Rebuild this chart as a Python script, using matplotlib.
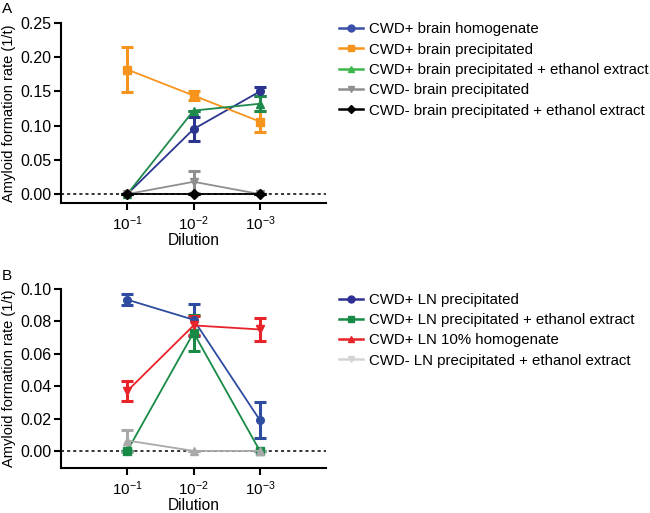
import matplotlib
matplotlib.use("Agg")
import matplotlib.pyplot as plt
from matplotlib.lines import Line2D

plt.rcParams["font.family"] = ["Liberation Sans", "DejaVu Sans"]
plt.rcParams["mathtext.default"] = "regular"

# ── data ─────────────────────────────────────────────────────────────
dilutions = ["10$^{-1}$", "10$^{-2}$", "10$^{-3}$"]
xpos = [1, 2, 3]

# panel A : brain
a_labels = [
    "CWD+ brain homogenate",
    "CWD+ brain precipitated",
    "CWD+ brain precipitated + ethanol extract",
    "CWD- brain precipitated",
    "CWD- brain precipitated + ethanol extract",
]
a_mean = [
    [0.000, 0.095, 0.150],
    [0.182, 0.144, 0.106],
    [0.000, 0.122, 0.132],
    [0.000, 0.018, 0.000],
    [0.000, 0.000, 0.000],
]
a_err = [
    [0.000, 0.017, 0.007],
    [0.033, 0.007, 0.016],
    [0.000, 0.000, 0.011],
    [0.000, 0.016, 0.000],
    [0.000, 0.000, 0.000],
]
a_colors = ["#2b3590", "#f7941d", "#1e8a4c", "#8f8f8f", "#000000"]
a_leg_colors = ["#3a4fa8", "#f7941d", "#3cb54a", "#8f8f8f", "#000000"]
a_markers = ["o", "s", "^", "v", "D"]

# panel B : lymph node
b_labels = [
    "CWD+ LN precipitated",
    "CWD+ LN precipitated + ethanol extract",
    "CWD+ LN 10% homogenate",
    "CWD- LN precipitated + ethanol extract",
]
b_mean = [
    [0.0934, 0.0810, 0.0190],
    [0.0000, 0.0730, 0.0000],
    [0.0370, 0.0775, 0.0750],
    [0.0064, 0.0000, 0.0000],
]
b_err = [
    [0.0035, 0.0100, 0.0110],
    [0.0000, 0.0110, 0.0000],
    [0.0060, 0.0060, 0.0070],
    [0.0068, 0.0000, 0.0000],
]
b_colors = ["#2e4ca0", "#178a45", "#e8232a", "#a9a9a9"]
b_leg_colors = ["#2e3192", "#178a45", "#e8232a", "#d4d4d4"]
b_markers = ["o", "s", "v", "^"]
b_leg_markers = ["o", "s", "^", "v"]


def draw_panel(ax, means, errs, colors, markers, ylim, yticks):
    ax.axhline(0, color="black", lw=1.1, ls=(0, (2, 2)), zorder=1)
    for m, e, c, mk in zip(means, errs, colors, markers):
        ms = 5.5 if mk != "D" else 5
        ax.errorbar(xpos, m, yerr=e, color=c, marker=mk, ms=ms, lw=1.3,
                    elinewidth=2.2, capsize=4, capthick=2.2, zorder=3)
    ax.set_xlim(0, 4)
    ax.set_ylim(*ylim)
    ax.set_xticks(xpos)
    ax.set_xticklabels(dilutions, fontsize=11)
    ax.set_yticks(yticks)
    ax.set_yticklabels(["{:.2f}".format(v) for v in yticks], fontsize=11.5)
    ax.spines["top"].set_visible(False)
    ax.spines["right"].set_visible(False)
    ax.spines["left"].set_linewidth(1.5)
    ax.spines["bottom"].set_linewidth(1.5)
    ax.spines["left"].set_bounds(ylim[0], yticks[-1])
    ax.tick_params(width=1.5, length=5)
    ax.tick_params(axis="y", pad=2)
    ax.tick_params(axis="x", pad=3)
    ax.set_xlabel("Dilution", fontsize=11.2, labelpad=0)
    ax.set_ylabel("Amyloid formation rate (1/t)", fontsize=10.5, labelpad=3)


fig = plt.figure(figsize=(6.5, 5.13), dpi=100)

ax1 = fig.add_axes([0.0938, 0.6043, 0.408, 0.3509])
draw_panel(ax1, a_mean, a_err, a_colors, a_markers, (-0.013, 0.25),
           [0.0, 0.05, 0.10, 0.15, 0.20, 0.25])

ax2 = fig.add_axes([0.0938, 0.0879, 0.408, 0.3488])
draw_panel(ax2, b_mean, b_err, b_colors, b_markers, (-0.0105, 0.10),
           [0.0, 0.02, 0.04, 0.06, 0.08, 0.10])

# legends
h1 = [Line2D([], [], color=c, marker=mk, ms=5 if mk != "D" else 4.5, lw=1.8)
      for c, mk in zip(a_leg_colors, a_markers)]
fig.legend(h1, a_labels, loc="upper left", bbox_to_anchor=(0.512, 0.968),
           frameon=False, fontsize=10.8, handlelength=1.6, handletextpad=0.4,
           labelspacing=0.42, borderaxespad=0)

h2 = [Line2D([], [], color=c, marker=mk, ms=5, lw=1.8)
      for c, mk in zip(b_leg_colors, b_leg_markers)]
fig.legend(h2, b_labels, loc="upper left", bbox_to_anchor=(0.512, 0.441),
           frameon=False, fontsize=10.8, handlelength=1.6, handletextpad=0.4,
           labelspacing=0.42, borderaxespad=0)

fig.text(0.003, 0.997, "A", fontsize=11, va="top", ha="left")
fig.text(0.003, 0.475, "B", fontsize=11, va="top", ha="left")

fig.savefig("out.png", dpi=100)
